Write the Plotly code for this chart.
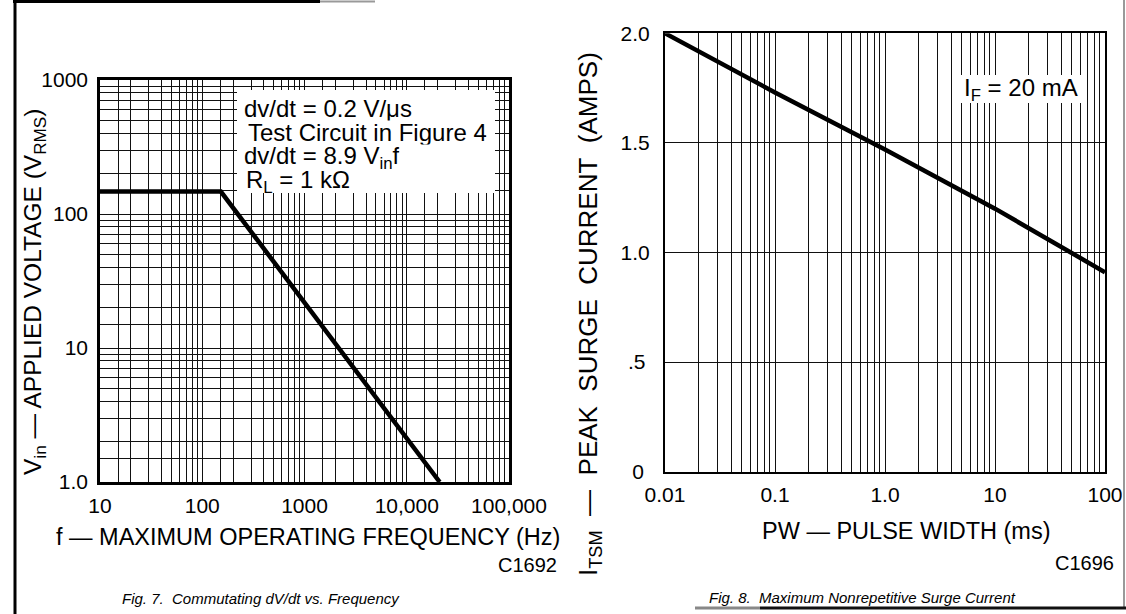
import math
import plotly.graph_objects as go

W, H = 1126, 614

# ---------------- Fig. 7 data ----------------
freq_hz = [10, 152, 21000]
vin_vrms = [147, 147, 1.0]
fig7_x_major = [10, 100, 1000, 10000, 100000]
fig7_x_labels = ["10", "100", "1000", "10,000", "100,000"]
fig7_y_major = [1, 10, 100, 1000]
fig7_y_labels = ["1.0", "10", "100", "1000"]
fig7_minor_steps = [1.5, 2, 3, 4, 5, 6, 7, 8, 9]

# ---------------- Fig. 8 data ----------------
pw_ms = [0.01, 0.1, 1.0, 10, 100]
itsm_amps = [2.0, 1.73, 1.47, 1.20, 0.91]
fig8_x_major = [0.01, 0.1, 1, 10, 100]
fig8_x_labels = ["0.01", "0.1", "1.0", "10", "100"]
fig8_y_major = [0, 0.5, 1.0, 1.5, 2.0]
fig8_y_labels = ["0\u2008", ".5\u2009", "1.0", "1.5", "2.0"]
fig8_minor_steps = [2, 3, 4, 5, 6, 7, 8, 9]

FONT = "Liberation Sans, Arial, Helvetica, sans-serif"

# left plot box (pixels)
L_X0, L_X1, L_Y0, L_Y1 = 100, 509, 80, 482
# right plot box (pixels)
R_X0, R_X1, R_Y0, R_Y1 = 665, 1105, 33.3, 471.7


def log_grid(majors, labels, steps):
    vals, texts = [], []
    for i, m in enumerate(majors):
        vals.append(m)
        texts.append(labels[i])
        if i < len(majors) - 1:
            for s in steps:
                vals.append(m * s)
                texts.append("")
    return vals, texts


def px(x):
    return x / W


def py(y):
    return 1 - y / H


fx_vals, fx_text = log_grid(fig7_x_major, fig7_x_labels, fig7_minor_steps)
fy_vals, fy_text = log_grid(fig7_y_major, fig7_y_labels, fig7_minor_steps)
gx_vals, gx_text = log_grid(fig8_x_major, fig8_x_labels, fig8_minor_steps)

fig = go.Figure()
fig.add_trace(go.Scatter(x=freq_hz, y=vin_vrms, mode="lines",
                         line=dict(color="black", width=4.5),
                         xaxis="x", yaxis="y", hoverinfo="skip"))
fig.add_trace(go.Scatter(x=pw_ms, y=itsm_amps, mode="lines",
                         line=dict(color="black", width=4.5),
                         xaxis="x2", yaxis="y2", hoverinfo="skip"))

common = dict(showgrid=True, gridcolor="#111", showline=True, linecolor="black",
              mirror=True, zeroline=False, ticks="outside", automargin=False,
              tickcolor="rgba(0,0,0,0)", tickfont=dict(family=FONT, size=21, color="black"),
              fixedrange=True, tickmode="array")

fig.update_layout(
    template="none",
    width=W, height=H, margin=dict(l=0, r=0, t=0, b=0, pad=0), autosize=False,
    paper_bgcolor="white", plot_bgcolor="white", showlegend=False,
    font=dict(family=FONT, color="black"),
    xaxis=dict(type="log", range=[math.log10(fig7_x_major[0]), math.log10(fig7_x_major[-1])],
               domain=[px(L_X0), px(L_X1)], anchor="y", tickvals=fx_vals, ticktext=fx_text,
               gridwidth=1.4, linewidth=2.5, ticklen=3, **common),
    yaxis=dict(type="log", range=[math.log10(fig7_y_major[0]), math.log10(fig7_y_major[-1])],
               domain=[py(L_Y1), py(L_Y0)], anchor="x", tickvals=fy_vals, ticktext=fy_text,
               gridwidth=1.4, linewidth=2.5, ticklen=5, **common),
    xaxis2=dict(type="log", range=[math.log10(fig8_x_major[0]), math.log10(fig8_x_major[-1])],
                domain=[px(R_X0), px(R_X1)], anchor="y2", tickvals=gx_vals, ticktext=gx_text,
                gridwidth=1.1, linewidth=2.2, ticklen=3, **common),
    yaxis2=dict(range=[fig8_y_major[0], fig8_y_major[-1]],
                domain=[py(R_Y1), py(R_Y0)], anchor="x2", tickvals=fig8_y_major,
                ticktext=fig8_y_labels, gridwidth=1.1, linewidth=2.2, ticklen=9, **common),
)

shapes = []
# white boxes behind the in-plot notes
shapes.append(dict(type="rect", xref="x domain", yref="y domain",
                   x0=(237 - L_X0) / (L_X1 - L_X0), x1=(495 - L_X0) / (L_X1 - L_X0),
                   y0=(L_Y1 - 193) / (L_Y1 - L_Y0), y1=(L_Y1 - 90) / (L_Y1 - L_Y0),
                   fillcolor="white", line=dict(width=0), layer="above"))
shapes.append(dict(type="rect", xref="x2 domain", yref="y2 domain",
                   x0=(955 - R_X0) / (R_X1 - R_X0), x1=(1083 - R_X0) / (R_X1 - R_X0),
                   y0=(R_Y1 - 103) / (R_Y1 - R_Y0), y1=(R_Y1 - 75) / (R_Y1 - R_Y0),
                   fillcolor="white", line=dict(width=0), layer="above"))
# page frame lines
shapes.append(dict(type="line", xref="paper", yref="paper", x0=px(15), x1=px(15),
                   y0=py(0), y1=py(614), line=dict(color="black", width=3)))
shapes.append(dict(type="line", xref="paper", yref="paper", x0=px(13), x1=px(320),
                   y0=py(1.5), y1=py(1.5), line=dict(color="black", width=3)))
shapes.append(dict(type="line", xref="paper", yref="paper", x0=px(320), x1=px(375),
                   y0=py(1.5), y1=py(1.5), line=dict(color="#999", width=2)))
shapes.append(dict(type="line", xref="paper", yref="paper", x0=px(1124), x1=px(1124),
                   y0=py(0), y1=py(608), line=dict(color="#777", width=1.5)))
shapes.append(dict(type="line", xref="paper", yref="paper", x0=px(695), x1=px(760),
                   y0=py(608), y1=py(608), line=dict(color="#888", width=3)))
shapes.append(dict(type="line", xref="paper", yref="paper", x0=px(760), x1=px(1126),
                   y0=py(608), y1=py(608), line=dict(color="#111", width=3)))
fig.update_layout(shapes=shapes)


def note(text, x, y, size, xanchor="left", angle=0, italic=False, height=None, pad=1):
    fig.add_annotation(text=text, xref="paper", yref="paper", x=px(x), y=py(y),
                       xanchor=xanchor, yanchor="middle", showarrow=False, textangle=angle,
                       height=height, borderpad=pad,
                       font=dict(family=FONT, size=size, color="black",
                                 style="italic" if italic else "normal"))


# Fig. 7 notes
note("dv/dt = 0.2 V/\u03bcs", 243, 109.5, 24, height=23.5, pad=0)
note("Test Circuit in Figure 4", 246.5, 133, 24, height=23.5, pad=0)
note("dv/dt = 8.9 V<sub>in</sub>f", 243, 157.5, 24, height=23.5, pad=0)
note("R<sub>L</sub> = 1 k\u03a9", 245, 181.5, 24, height=23.5, pad=0)
note("V<sub>in</sub> \u2014 APPLIED VOLTAGE (V<sub>RMS</sub>)", 34, 292, 24.5, xanchor="center", angle=-90)
note("f \u2014 MAXIMUM OPERATING FREQUENCY (Hz)", 308, 537, 23.5, xanchor="center")
note("C1692", 559, 565, 20, xanchor="right")
note("Fig. 7.\u00a0 Commutating dV/dt vs. Frequency", 261, 598, 15, xanchor="center", italic=True)

# Fig. 8 notes
note("I<sub>F</sub> = 20 mA", 1021, 89, 24, xanchor="center")
note("I<sub>TSM</sub>\u00a0\u00a0\u2014\u00a0\u00a0PEAK\u00a0\u00a0SURGE\u00a0\u00a0CURRENT\u00a0\u00a0(AMPS)",
     589, 314, 26, xanchor="center", angle=-90)
note("PW \u2014 PULSE WIDTH (ms)", 906, 531, 23.5, xanchor="center")
note("C1696", 1116, 563, 20, xanchor="right")
note("Fig. 8.\u00a0 Maximum Nonrepetitive Surge Current", 862, 597, 15, xanchor="center", italic=True)

fig.write_html("out.html", config={"displayModeBar": False},
               post_script="document.body.style.margin='0';")
